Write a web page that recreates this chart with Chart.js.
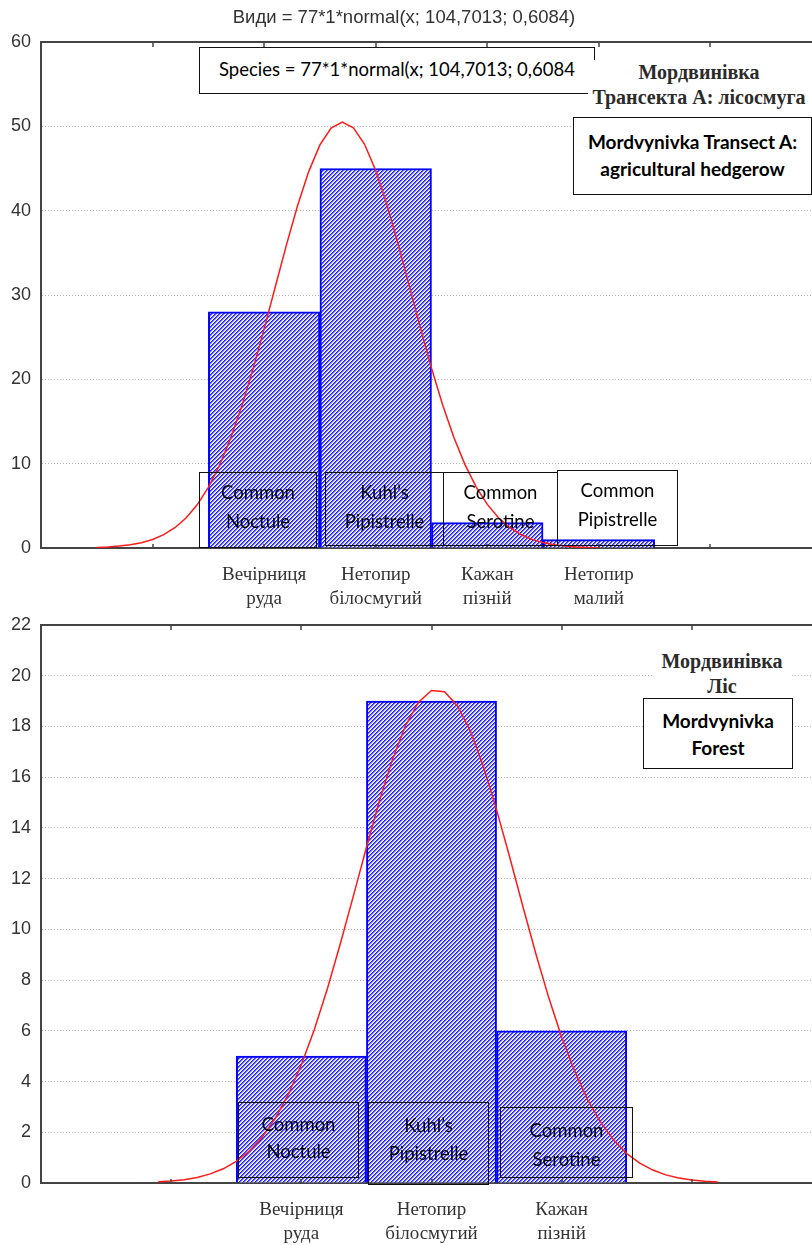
<!DOCTYPE html>
<html>
<head>
<meta charset="utf-8">
<script src="https://cdn.jsdelivr.net/npm/chart.js@4.4.1/dist/chart.umd.min.js"></script>
<style>
  body { margin: 0; background: #fff; }
  #page { position: relative; width: 812px; height: 1245px; overflow: hidden; }
  #page canvas { position: absolute; left: 0; }
  .title { position: absolute; left: 0; width: 808px; top: 6px; text-align: center;
           font: 18.5px "Liberation Sans", Arial, sans-serif; color: #333; line-height: 22px; }
  .head { position: absolute; text-align: center; white-space: nowrap; background: #fff;
          font: bold 20px "Liberation Serif", "Times New Roman", serif; color: #2b2b2b; line-height: 25px; }
  .box { position: absolute; box-sizing: border-box; border: 1.5px solid #111; text-align: center;
         white-space: nowrap; font: 18.5px Lato, "Open Sans", sans-serif; color: #000; }
  .box.fill { background: #fff; }
  .box.bold { font-weight: bold; font-size: 19px; }
</style>
</head>
<body>
<div id="page">
  <canvas id="chartA" width="822" height="612" style="top:0"></canvas>
  <canvas id="chartB" width="822" height="633" style="top:612px"></canvas>

  <div class="title">Види = 77*1*normal(x; 104,7013; 0,6084)</div>

  <!-- top panel notes -->
  <div class="box fill" style="left:199px;top:47px;width:396px;height:47px;line-height:43px;">Species = 77*1*normal(x; 104,7013; 0,6084</div>
  <div class="head" style="left:588px;top:60px;width:222px;">Мордвинівка<br>Трансекта А: лісосмуга</div>
  <div class="box fill bold" style="left:573px;top:117px;width:239px;height:78px;padding-top:10px;line-height:27px;">Mordvynivka Transect A:<br>agricultural hedgerow</div>
  <div class="box" style="left:199px;top:472px;width:118px;height:76px;padding-top:5px;line-height:29px;">Common<br>Noctule</div>
  <div class="box" style="left:325px;top:472px;width:119px;height:74px;padding-top:5px;line-height:29px;">Kuhl’s<br>Pipistrelle</div>
  <div class="box" style="left:443px;top:472px;width:115px;height:74px;padding-top:5px;line-height:29px;">Common<br>Serotine</div>
  <div class="box" style="left:557px;top:470px;width:121px;height:76px;padding-top:5px;line-height:29px;">Common<br>Pipistrelle</div>

  <!-- bottom panel notes -->
  <div class="head" style="left:652px;top:649px;width:140px;">Мордвинівка<br>Ліс</div>
  <div class="box fill bold" style="left:643px;top:698px;width:150px;height:71px;padding-top:8px;line-height:27px;">Mordvynivka<br>Forest</div>
  <div class="box" style="left:238px;top:1102px;width:121px;height:76px;padding-top:8px;line-height:27px;">Common<br>Noctule</div>
  <div class="box" style="left:368px;top:1102px;width:121px;height:83px;padding-top:8px;line-height:28px;">Kuhl’s<br>Pipistrelle</div>
  <div class="box" style="left:500px;top:1107px;width:133px;height:71px;padding-top:8px;line-height:29px;">Common<br>Serotine</div>
</div>

<script>
// species names under the x axis
const speciesUa = [['Вечірниця', 'руда'], ['Нетопир', 'білосмугий'], ['Кажан', 'пізній'], ['Нетопир', 'малий']];

// transect A: agricultural hedgerow
const binsA = [104, 105, 106, 107];
const countsA = [28, 45, 3, 1];
const fitAx = [102.5, 102.6, 102.7, 102.8, 102.9, 103.0, 103.1, 103.2, 103.3, 103.4, 103.5, 103.6, 103.7, 103.8, 103.9,
               104.0, 104.1, 104.2, 104.3, 104.4, 104.5, 104.6, 104.7, 104.8, 104.9, 105.0, 105.1, 105.2, 105.3, 105.4,
               105.5, 105.6, 105.7, 105.8, 105.9, 106.0, 106.1, 106.2, 106.3, 106.4, 106.5, 106.6, 106.7, 106.8, 106.9, 107.0];
const fitAy = [0.07, 0.13, 0.23, 0.38, 0.63, 1.01, 1.58, 2.40, 3.56, 5.12, 7.19, 9.81, 13.03, 16.85, 21.21,
               25.98, 30.98, 35.95, 40.62, 44.66, 47.80, 49.79, 50.49, 49.83, 47.87, 44.76, 40.74, 36.08, 31.11, 26.11,
               21.33, 16.96, 13.12, 9.89, 7.25, 5.17, 3.59, 2.43, 1.60, 1.02, 0.64, 0.39, 0.23, 0.13, 0.07, 0.04];
const yTicksA = { max: 60, step: 10 };

// forest
const binsB = [104, 105, 106];
const countsB = [5, 19, 6];
const fitBx = [102.9, 103.0, 103.1, 103.2, 103.3, 103.4, 103.5, 103.6, 103.7, 103.8, 103.9, 104.0, 104.1, 104.2, 104.3,
               104.4, 104.5, 104.6, 104.7, 104.8, 104.9, 105.0, 105.1, 105.2, 105.3, 105.4, 105.5, 105.6, 105.7, 105.8,
               105.9, 106.0, 106.1, 106.2, 106.3, 106.4, 106.5, 106.6, 106.7, 106.8, 106.9, 107.0, 107.1, 107.2];
const fitBy = [0.05, 0.08, 0.13, 0.22, 0.36, 0.56, 0.85, 1.25, 1.81, 2.55, 3.49, 4.66, 6.05, 7.66, 9.44,
               11.32, 13.23, 15.07, 16.70, 18.03, 18.96, 19.42, 19.37, 18.81, 17.80, 16.40, 14.71, 12.86, 10.94, 9.07,
               7.32, 5.75, 4.41, 3.28, 2.39, 1.69, 1.16, 0.78, 0.51, 0.32, 0.20, 0.12, 0.07, 0.04];
const yTicksB = { max: 22, step: 2 };

// "////" hatch used for histogram bars
function hatch(ctx) {
  const c = document.createElement('canvas');
  c.width = 4; c.height = 4;
  const g = c.getContext('2d');
  const img = g.createImageData(4, 4);
  const shades = [[30, 30, 255], [95, 95, 255], [205, 205, 255], [255, 255, 255]];
  for (let y = 0; y < 4; y++) {
    for (let x = 0; x < 4; x++) {
      const s = shades[(x + y) % 4];
      const i = (y * 4 + x) * 4;
      img.data[i] = s[0]; img.data[i + 1] = s[1]; img.data[i + 2] = s[2]; img.data[i + 3] = 255;
    }
  }
  g.putImageData(img, 0, 0);
  return ctx.createPattern(c, 'repeat');
}

// top frame line and small inner tick marks
const frameLines = {
  id: 'frameLines',
  afterDraw(chart) {
    const { ctx, chartArea: a, scales: { x } } = chart;
    ctx.save();
    ctx.strokeStyle = '#444';
    ctx.lineWidth = 2;
    ctx.beginPath();
    ctx.moveTo(a.left, a.top);
    ctx.lineTo(a.right, a.top);
    ctx.stroke();
    ctx.lineWidth = 1.5;
    x.ticks.forEach(t => {
      if (t.value <= x.min || t.value >= x.max) return;
      const px = Math.round(x.getPixelForValue(t.value));
      ctx.beginPath();
      ctx.moveTo(px, a.top); ctx.lineTo(px, a.top + 5);
      ctx.moveTo(px, a.bottom); ctx.lineTo(px, a.bottom - 4);
      ctx.stroke();
    });
    ctx.restore();
  }
};

// axes keep the plot flush with the padding, no room reserved for edge labels
function noEdgePadding(s) {
  s.paddingLeft = 0; s.paddingRight = 0; s.paddingTop = 0; s.paddingBottom = 0;
}

function makeChart(id, bins, counts, fitX, fitY, yt, xMax, xHeight, padTop) {
  const canvas = document.getElementById(id);
  const ctx = canvas.getContext('2d');
  return new Chart(ctx, {
    type: 'bar',
    data: {
      datasets: [{
        type: 'line',
        data: fitX.map((v, i) => ({ x: v, y: fitY[i] })),
        borderColor: '#ff1a1a',
        borderWidth: 1.5,
        pointRadius: 0,
        tension: 0,
        order: 0
      }, {
        type: 'bar',
        data: bins.map((v, i) => ({ x: v, y: counts[i] })),
        backgroundColor: hatch(ctx),
        borderColor: '#0000ff',
        borderWidth: 2,
        barPercentage: 1,
        categoryPercentage: 1,
        order: 1
      }]
    },
    options: {
      responsive: false,
      animation: false,
      devicePixelRatio: 1,
      layout: { padding: { top: padTop, left: 0, right: 0, bottom: 0 } },
      plugins: { legend: { display: false }, tooltip: { enabled: false } },
      scales: {
        x: {
          type: 'linear',
          min: 102,
          max: xMax,
          offset: false,
          grid: { display: false, drawTicks: false },
          border: { display: true, color: '#444', width: 2 },
          afterFit: s => { s.height = xHeight; noEdgePadding(s); },
          ticks: {
            stepSize: 1,
            autoSkip: false,
            maxRotation: 0,
            padding: 15,
            color: '#333',
            font: { family: 'Liberation Serif', size: 19, lineHeight: '24px' },
            callback: v => {
              const i = bins.indexOf(v);
              return i >= 0 ? speciesUa[i] : '';
            }
          }
        },
        y: {
          min: 0,
          max: yt.max,
          grid: {
            drawTicks: false,
            color: c => (c.tick.value === 0 || c.tick.value === yt.max) ? 'rgba(0,0,0,0)' : '#b5b5b5',
            lineWidth: 1
          },
          border: { display: true, color: '#444', width: 2, dash: [1, 2] },
          afterFit: s => { s.width = 41; noEdgePadding(s); },
          ticks: {
            stepSize: yt.step,
            padding: 10,
            color: '#333',
            font: { family: 'Liberation Sans', size: 18 }
          }
        }
      }
    },
    plugins: [frameLines]
  });
}

makeChart('chartA', binsA, countsA, fitAx, fitAy, yTicksA, 109, 64, 42);
makeChart('chartB', binsB, countsB, fitBx, fitBy, yTicksB, 108, 62, 13);
</script>
</body>
</html>
